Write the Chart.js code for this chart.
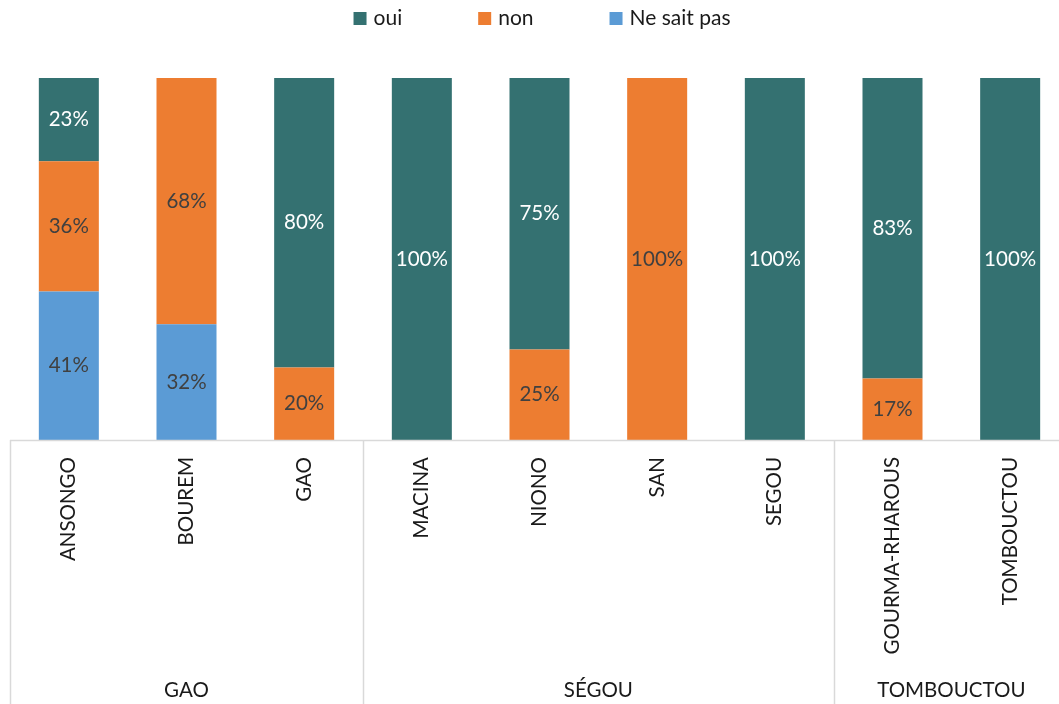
<!DOCTYPE html>
<html>
<head>
<meta charset="utf-8">
<script src="https://cdn.jsdelivr.net/npm/chart.js@4"></script>
<style>
  html, body { margin: 0; padding: 0; overflow: hidden; background: #fff; }
  #wrap { width: 1069px; height: 704px; position: relative; }
</style>
</head>
<body>
<div id="wrap"><canvas id="chart"></canvas></div>
<script>
// Cercles et régions
const cercles = ["ANSONGO", "BOUREM", "GAO", "MACINA", "NIONO", "SAN", "SEGOU", "GOURMA-RHAROUS", "TOMBOUCTOU"];
const regions = ["GAO", "SÉGOU", "TOMBOUCTOU"];
const regionSizes = [3, 4, 2];

// Valeurs en %
const oui = [23, 0, 80, 100, 75, 0, 100, 83, 100];
const non = [36, 68, 20, 0, 25, 100, 0, 17, 0];
const neSaitPas = [41, 32, 0, 0, 0, 0, 0, 0, 0];

const FONT = "Lato, 'Open Sans', sans-serif";
const gris = "#d9d9d9";

const extras = {
  id: "extras",
  afterDatasetsDraw(chart) {
    // étiquettes de données au centre de chaque segment
    const ctx = chart.ctx;
    ctx.save();
    ctx.font = "20.5px " + FONT;
    ctx.textAlign = "center";
    ctx.textBaseline = "middle";
    chart.data.datasets.forEach((ds, di) => {
      const meta = chart.getDatasetMeta(di);
      meta.data.forEach((bar, i) => {
        const v = ds.data[i];
        if (!v) return;
        ctx.fillStyle = ds.labelColor;
        ctx.fillText(v + "%", bar.x, (bar.y + bar.base) / 2);
      });
    });
    ctx.restore();
  },
  afterDraw(chart) {
    const ctx = chart.ctx;
    const area = chart.chartArea;
    const bas = chart.height;
    const pas = (area.right - area.left) / cercles.length;
    ctx.save();
    // axe horizontal
    ctx.strokeStyle = gris;
    ctx.lineWidth = 1.5;
    ctx.beginPath();
    ctx.moveTo(area.left, area.bottom + 0.5);
    ctx.lineTo(area.right, area.bottom + 0.5);
    ctx.stroke();
    // séparateurs des régions + noms
    let debut = 0;
    ctx.font = "20.5px " + FONT;
    ctx.fillStyle = "#1a1a1a";
    ctx.textAlign = "center";
    ctx.textBaseline = "middle";
    regions.forEach((r, k) => {
      const gx = area.left + debut * pas;
      ctx.beginPath();
      ctx.moveTo(Math.round(gx) + 0.5, area.bottom);
      ctx.lineTo(Math.round(gx) + 0.5, bas);
      ctx.stroke();
      const fin = debut + regionSizes[k];
      ctx.fillText(r, area.left + (debut + fin) / 2 * pas, 690);
      debut = fin;
    });
    // légende
    ctx.font = "21px " + FONT;
    const items = chart.data.datasets.slice().reverse();
    const box = 13, gapTxt = 7, gapItem = 76;
    const widths = items.map(d => box + gapTxt + ctx.measureText(d.label).width);
    const total = widths.reduce((a, b) => a + b, 0) + gapItem * (items.length - 1);
    let lx = 542 - total / 2;
    ctx.textAlign = "left";
    items.forEach((d, k) => {
      ctx.fillStyle = d.backgroundColor;
      ctx.fillRect(lx, 12, box, box);
      ctx.fillStyle = "#1a1a1a";
      ctx.fillText(d.label, lx + box + gapTxt, 18.5);
      lx += widths[k] + gapItem;
    });
    ctx.restore();
  }
};

new Chart(document.getElementById("chart"), {
  type: "bar",
  data: {
    labels: cercles,
    datasets: [
      { label: "Ne sait pas", data: neSaitPas, backgroundColor: "#5B9BD5", labelColor: "#404040" },
      { label: "non", data: non, backgroundColor: "#ED7D31", labelColor: "#404040" },
      { label: "oui", data: oui, backgroundColor: "#347171", labelColor: "#ffffff" }
    ]
  },
  options: {
    responsive: true,
    maintainAspectRatio: false,
    animation: false,
    events: [],
    layout: { padding: { top: 78, left: 10, right: 0, bottom: 0 } },
    datasets: { bar: { categoryPercentage: 1, barPercentage: 0.51 } },
    plugins: { legend: { display: false }, tooltip: { enabled: false } },
    scales: {
      x: {
        stacked: true,
        grid: { display: false, drawTicks: false },
        border: { display: false },
        ticks: {
          autoSkip: false, minRotation: 90, maxRotation: 90, padding: 17,
          color: "#1a1a1a", font: { family: FONT, size: 20.5 }
        },
        afterFit(scale) { scale.height = 264; }
      },
      y: { stacked: true, min: 0, max: 100, display: false }
    }
  },
  plugins: [extras]
});
</script>
</body>
</html>
